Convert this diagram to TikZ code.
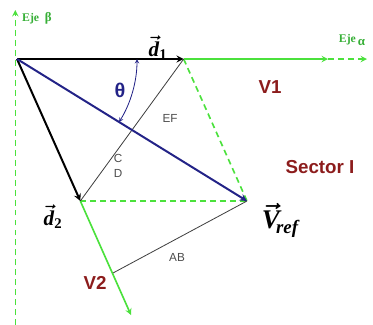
\documentclass[tikz,border=0pt]{standalone}
\usepackage{amsmath}
\usepackage{fontspec}
\setmainfont{Liberation Serif}
\setsansfont{Liberation Sans}
\usetikzlibrary{arrows}
\definecolor{ejegreen}{RGB}{75,225,60}
\definecolor{ejetext}{RGB}{55,175,55}
\definecolor{vecblue}{RGB}{35,35,135}
\definecolor{lblred}{RGB}{140,28,28}
\newcommand{\vecfont}{\fontsize{18}{20}\selectfont\boldmath}
\newcommand{\vreffont}{\fontsize{23}{26}\selectfont\boldmath}
\newcommand{\bi}[1]{\text{\bfseries\itshape #1}}
\begin{document}
\begin{tikzpicture}[>=stealth,
    eje/.style={ejegreen, line width=1.4pt},
    ejedash/.style={eje, dash pattern=on 5pt off 3.5pt},
    seg/.style={black!75, line width=0.7pt},
    lbl/.style={font=\sffamily\bfseries\fontsize{16}{18}\selectfont, text=lblred},
    segtxt/.style={font=\sffamily\fontsize{10}{12.5}\selectfont, text=black!70, align=center},
    ejetxt/.style={font=\bfseries\fontsize{10}{12}\selectfont, text=ejetext},
    vectxt/.style={font=\vecfont},
    vreftxt/.style={font=\vreffont}]
    \useasboundingbox (-0.51,-7.98) rectangle (10.68,1.77);

    % Punkte
    \coordinate (O) at (0,0);
    \coordinate (D1) at (5.0,0);
    \coordinate (D2) at (1.9,-4.26);
    \coordinate (Vr) at (6.9,-4.26);
    \coordinate (P) at (2.88,-6.42);
    \coordinate (V2end) at (3.42,-7.68);
    \coordinate (Xa) at (9.33,0);
    \coordinate (Xb) at (10.5,0);
    \coordinate (Yb) at (-0.05,-7.98);
    \coordinate (Yt) at (-0.05,1.47);

    % Ejes
    \draw[ejedash, ->] (Yb) -- (Yt);
    \draw[eje, ->] (D1) -- (Xa);
    \draw[ejedash, ->] (Xa) -- (Xb);
    \draw[eje, ->] (D2) -- (V2end);
    \draw[ejedash] (D1) -- (Vr);
    \draw[ejedash] (D2) -- (Vr);

    % Segmentos
    \draw[seg] (D2) -- (D1);
    \draw[seg] (P) -- (Vr);

    % Vectores
    \draw[line width=1.7pt, ->] (O) -- (D1);
    \draw[line width=1.7pt, ->] (O) -- (D2);
    \draw[vecblue, line width=1.7pt, ->] (O) -- (Vr);
    \draw[vecblue, line width=0.7pt, <->] (-31.7:3.6) arc (-31.7:0:3.6);

    % Etiquetas
    \node[ejetxt] (eb) at (0.6,1.23) {Eje\ \ {\fontsize{11}{12}\selectfont β}};
    \node[ejetxt] (ea) at (10.05,0.57) {Eje\,\raisebox{-3pt}{\fontsize{11}{12}\selectfont α}};
    \node[vectxt] (d1) at (4.23,0.33) {$\vec{\bi{d}}_{\text{\bfseries 1}}$};
    \node[vectxt] (d2) at (1.08,-4.74) {$\vec{\bi{d}}_{\text{\bfseries 2}}$};
    \node[vreftxt] (vref) at (7.9,-4.83) {$\vec{\bi{V}}_{\!\bi{ref}}$};
    \node[font=\sffamily\bfseries\fontsize{17}{19}\selectfont, text=vecblue] (th) at (3.09,-0.93) {θ};
    \node[lbl] (v1) at (7.59,-0.84) {V1};
    \node[lbl] (sec) at (9.09,-3.24) {Sector I};
    \node[lbl] (v2) at (2.34,-6.72) {V2};
    \node[segtxt] (ef) at (4.59,-1.77) {EF};
    \node[segtxt] (cd) at (3.03,-3.2) {C\\D};
    \node[segtxt] (ab) at (4.8,-5.94) {AB};
\end{tikzpicture}
\end{document}
